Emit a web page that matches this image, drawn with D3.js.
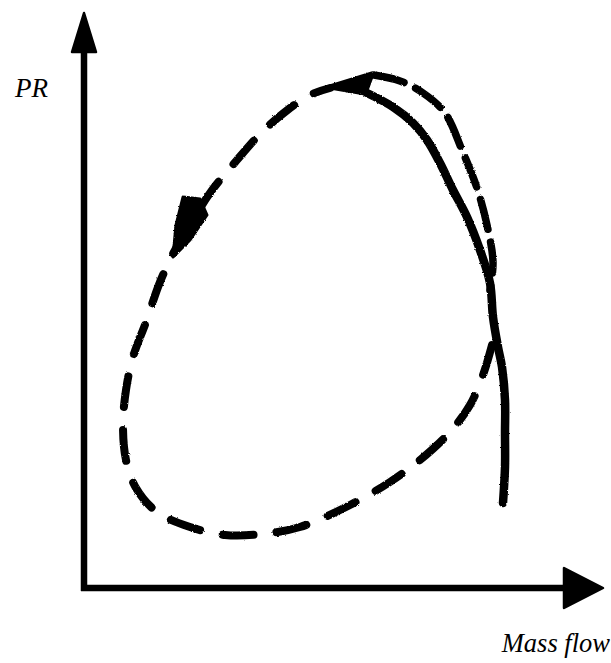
<!DOCTYPE html>
<html>
<head>
<meta charset="utf-8">
<script src="https://cdn.jsdelivr.net/npm/d3@7"></script>
<style>
  html, body { margin: 0; padding: 0; background: #fff; }
  svg { display: block; }
</style>
</head>
<body>
<script>
// Compressor characteristic (solid) and surge cycle (dashed), in axis units
const characteristicX = [5.66, 6.18, 6.58, 6.86, 7.12, 7.38, 7.66, 7.92, 8.12, 8.18, 8.28, 8.36, 8.42, 8.42, 8.42, 8.38];
const characteristicY = [9.90, 9.62, 9.30, 8.96, 8.50, 7.96, 7.42, 6.76, 6.10, 5.42, 4.82, 4.42, 3.76, 3.10, 2.42, 1.70];

// Surge loop: from the characteristic, down round the bottom, up the left side to the peak
const loopX = [8.16, 7.98, 7.72, 7.32, 6.72, 6.12, 5.32, 4.32, 3.56, 2.82, 2.12, 1.46, 1.04, 0.84, 0.78, 0.84, 0.98, 1.24, 1.52, 1.82, 2.12, 2.52, 3.06, 3.56, 4.02, 4.52, 4.92];
const loopY = [4.86, 4.26, 3.66, 3.12, 2.56, 2.12, 1.66, 1.22, 1.08, 1.06, 1.22, 1.52, 2.00, 2.56, 3.26, 3.96, 4.62, 5.32, 6.12, 6.76, 7.26, 7.90, 8.56, 9.12, 9.52, 9.86, 10.00];

// Return arc: from the peak over to the right and back down onto the characteristic
const returnX = [5.80, 6.32, 6.78, 7.22, 7.56, 7.86, 8.06, 8.18, 8.12];
const returnY = [10.26, 10.14, 9.90, 9.50, 8.76, 8.00, 7.26, 6.52, 5.96];

// Direction arrowheads drawn on the cycle
const peakArrowX = [4.92, 5.76, 5.62];
const peakArrowY = [10.02, 10.28, 9.90];
const leftArrowX = [1.98, 2.32, 2.46, 2.12, 1.78, 1.84];
const leftArrowY = [7.82, 7.78, 7.46, 6.96, 6.62, 7.26];

// Axis extents and titles
const axisMaxX = 10.38;
const axisMaxY = 11.5;
const xTitle = "Mass flow";
const yTitle = "PR";

const W = 611, H = 663;
const svg = d3.select("body").append("svg").attr("width", W).attr("height", H);

const x = d3.scaleLinear().domain([0, 10]).range([84, 584]);
const y = d3.scaleLinear().domain([0, 10]).range([588, 88]);

// ragged ink edge for the hand-drawn curves
const defs = svg.append("defs");
const f = defs.append("filter").attr("id", "ink")
  .attr("x", "-5%").attr("y", "-5%").attr("width", "110%").attr("height", "110%");
f.append("feTurbulence").attr("type", "fractalNoise").attr("baseFrequency", 0.9)
  .attr("numOctaves", 2).attr("seed", 3).attr("result", "noise");
f.append("feDisplacementMap").attr("in", "SourceGraphic").attr("in2", "noise")
  .attr("scale", 2.2).attr("xChannelSelector", "R").attr("yChannelSelector", "G");

const zip = (xs, ys) => xs.map((v, i) => [v, ys[i]]);
const line = d3.line().x(d => x(d[0])).y(d => y(d[1])).curve(d3.curveCatmullRom.alpha(0.5));
const poly = pts => "M" + pts.map(d => x(d[0]) + "," + y(d[1])).join("L") + "Z";

// Axes with arrowheads
const axes = svg.append("g");
axes.append("line")
  .attr("x1", x(0)).attr("y1", y(0) + 3).attr("x2", x(0)).attr("y2", y(axisMaxY) + 30)
  .attr("stroke", "#000").attr("stroke-width", 6.5);
axes.append("line")
  .attr("x1", x(0) - 3).attr("y1", y(0)).attr("x2", x(axisMaxX) - 30).attr("y2", y(0))
  .attr("stroke", "#000").attr("stroke-width", 6.5);
axes.append("path")
  .attr("d", `M${x(0)},${y(axisMaxY)} L${x(0) + 12},${y(axisMaxY) + 39} L${x(0) - 12},${y(axisMaxY) + 39} Z`)
  .attr("fill", "#000").attr("stroke", "#000").attr("stroke-width", 2.5).attr("stroke-linejoin", "round");
axes.append("path")
  .attr("d", `M${x(axisMaxX)},${y(0)} L${x(axisMaxX) - 39},${y(0) - 20} L${x(axisMaxX) - 39},${y(0) + 20} Z`)
  .attr("fill", "#000").attr("stroke", "#000").attr("stroke-width", 2.5).attr("stroke-linejoin", "round");

// Curves
const ink = svg.append("g").attr("filter", "url(#ink)");
ink.append("path")
  .attr("d", line(zip(characteristicX, characteristicY)))
  .attr("fill", "none").attr("stroke", "#000").attr("stroke-width", 8.5)
  .attr("stroke-linecap", "round");
ink.append("path")
  .attr("d", line(zip(loopX, loopY)))
  .attr("fill", "none").attr("stroke", "#000").attr("stroke-width", 8)
  .attr("stroke-linecap", "round").attr("stroke-dasharray", "31 23");
ink.append("path")
  .attr("d", line(zip(returnX, returnY)))
  .attr("fill", "none").attr("stroke", "#000").attr("stroke-width", 7.5)
  .attr("stroke-linecap", "round").attr("stroke-dasharray", "31 13");
ink.append("path").attr("d", poly(zip(peakArrowX, peakArrowY)))
  .attr("fill", "#000").attr("stroke", "#000").attr("stroke-width", 5).attr("stroke-linejoin", "round");
ink.append("path").attr("d", poly(zip(leftArrowX, leftArrowY)))
  .attr("fill", "#000").attr("stroke", "#000").attr("stroke-width", 3).attr("stroke-linejoin", "round");

// Axis titles
svg.append("text").attr("x", 15).attr("y", 97)
  .attr("font-family", "'Liberation Serif', 'Times New Roman', serif")
  .attr("font-style", "italic").attr("font-size", 27).attr("fill", "#000")
  .text(yTitle);
svg.append("text").attr("x", 610).attr("y", 652).attr("text-anchor", "end")
  .attr("font-family", "'Liberation Serif', 'Times New Roman', serif")
  .attr("font-style", "italic").attr("font-size", 26.5).attr("fill", "#000")
  .text(xTitle);
</script>
</body>
</html>
